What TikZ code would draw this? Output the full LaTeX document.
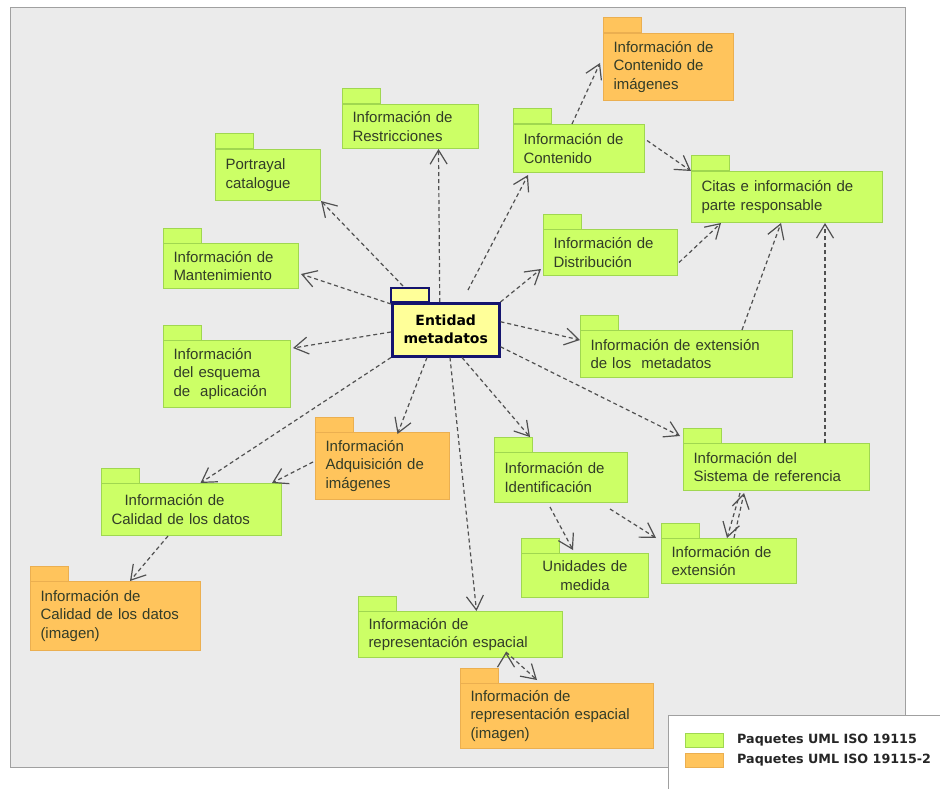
\documentclass[tikz,border=0pt]{standalone}
\usepackage{fontspec}
\setmainfont{Liberation Sans}
\newfontfamily\dejavu{DejaVu Sans}
\usetikzlibrary{arrows.meta}
\definecolor{fondo}{RGB}{235,235,235}
\definecolor{marco}{RGB}{160,160,160}
\definecolor{verde}{RGB}{204,255,102}
\definecolor{verdeborde}{RGB}{160,215,80}
\definecolor{naranja}{RGB}{255,196,92}
\definecolor{naranjaborde}{RGB}{235,175,80}
\definecolor{amarillo}{RGB}{255,255,153}
\definecolor{azul}{RGB}{20,20,110}
\definecolor{texto}{RGB}{50,60,40}
\definecolor{flecha}{RGB}{80,80,80}

\begin{document}
\begin{tikzpicture}[x=1pt,y=-1pt]
	\tikzset{pkg/.style 2 args = {draw=verdeborde, fill=verde, anchor=north west, text=texto, line width=1pt,
			font=\fontsize{15}{18.5}\selectfont, align=left, inner xsep=10pt, inner ysep=0pt,
			minimum height=#2pt, text width=#1pt-20pt}}
	\tikzset{img/.style = {fill=naranja, draw=naranjaborde}}
	\tikzset{raiz/.style = {draw=azul, line width=2.5pt, fill=amarillo, anchor=north west, align=center,
			font=\dejavu\bfseries\fontsize{14}{18}\selectfont, minimum width=107pt, minimum height=53pt, inner sep=0pt}}
	\tikzset{dep/.style = {draw=flecha, line width=1.2pt, dash pattern=on 4pt off 3pt,
			-{Straight Barb[length=14pt,width=17pt]}}}
	\useasboundingbox (0,0) rectangle (940,789);
	\fill[white] (0,0) rectangle (940,789);
	\draw[draw=marco, fill=fondo, line width=1pt] (10,8) rectangle (905,767);
	% paquetes
	\node[pkg={130}{67}, img] (imgcont) at (603,33) {Información de\\Contenido de\\imágenes};
	\node[pkg={136}{44}] (restric) at (342,104) {Información de\\Restricciones};
	\node[pkg={105}{51}] (portrayal) at (215,149) {Portrayal\\catalogue};
	\node[pkg={135}{45}] (manten) at (163,243) {Información de\\Mantenimiento};
	\node[pkg={127}{67}] (esquema) at (163,340) {Información\\del esquema\\de~ aplicación};
	\node[raiz] (entidad) at (391,302) {Entidad\\metadatos};
	\node[pkg={131}{48}] (contenido) at (513,124) {Información de\\Contenido};
	\node[pkg={191}{51}] (citas) at (691,171) {Citas e información de\\parte responsable};
	\node[pkg={134}{46}] (distrib) at (543,229) {Información de\\Distribución};
	\node[pkg={212}{47}] (extmeta) at (580,330) {Información de extensión\\de los~ metadatos};
	\node[pkg={134}{67}, img] (adquis) at (315,432) {Información\\Adquisición de\\imágenes};
	\node[pkg={180}{52}] (calidad) at (101,483) {\hspace*{13pt}Información de\\Calidad de los datos};
	\node[pkg={170}{69}, img] (calimg) at (30,581) {Información de\\Calidad de los datos\\(imagen)};
	\node[pkg={204}{46}] (repesp) at (358,611) {Información de\\representación espacial};
	\node[pkg={193}{65}, img] (repimg) at (460,683) {Información de\\representación espacial\\(imagen)};
	\node[pkg={133}{50}] (ident) at (494,452) {Información de\\Identificación};
	\node[pkg={186}{47}] (sisref) at (683,443) {Información del\\Sistema de referencia};
	\node[pkg={127}{44}, align=center] (unidades) at (521,553) {Unidades de\\medida};
	\node[pkg={135}{45}] (extension) at (661,538) {Información de\\extensión};
	% pestanas
	\foreach \n in {restric,portrayal,manten,esquema,contenido,citas,distrib,extmeta,calidad,repesp,ident,sisref,unidades,extension}
		\draw[draw=verdeborde, fill=verde, line width=1pt] (\n.north west) rectangle ++(38,-15);
	\foreach \n in {imgcont,adquis,calimg,repimg}
		\draw[draw=naranjaborde, fill=naranja, line width=1pt] (\n.north west) rectangle ++(38,-15);
	\draw[draw=azul, fill=amarillo, line width=2.5pt] (entidad.north west) rectangle ++(38,-14);
	% dependencias
	\path[dep]
		([shift={(-6,0)}]entidad.north) edge ([shift={(28,0)}]restric.south)
		([shift={(12,-16)}]entidad.north west) edge (portrayal.south east)
		([shift={(0,2)}]entidad.north west) edge ([shift={(2,8)}]manten.east)
		([shift={(0,30)}]entidad.north west) edge ([shift={(2,-26)}]esquema.east)
		(entidad.south west) edge ([shift={(9,0)}]calidad.north)
		([shift={(36,0)}]entidad.south west) edge ([shift={(15,2)}]adquis.north)
		([shift={(59,0)}]entidad.south west) edge ([shift={(16,0)}]repesp.north)
		([shift={(71,0)}]entidad.south west) edge ([shift={(36,-15)}]ident.north west)
		([shift={(0,17)}]entidad.east) edge ([shift={(-3,-7)}]sisref.north west)
		([shift={(0,-8)}]entidad.east) edge ([shift={(0,-14)}]extmeta.west)
		(entidad.north east) edge ([shift={(-2,-7)}]distrib.south west)
		([shift={(77,-12)}]entidad.north west) edge ([shift={(15,2)}]contenido.south west)
		([shift={(59,0)}]contenido.north west) edge ([shift={(-3,30)}]imgcont.north west)
		([shift={(2,-8)}]contenido.east) edge (citas.north west)
		([shift={(1,10)}]distrib.east) edge ([shift={(30,0)}]citas.south west)
		([shift={(162,0)}]extmeta.north west) edge ([shift={(90,0)}]citas.south west)
		([shift={(142,0)}]sisref.north west) edge ([shift={(134,0)}]citas.south west)
		([shift={(-2,-4)}]adquis.west) edge ([shift={(-10,0)}]calidad.north east)
		([shift={(67,0)}]calidad.south west) edge ([shift={(100,0)}]calimg.north west)
		([shift={(56,4)}]ident.south west) edge ([shift={(52,-3)}]unidades.north west)
		([shift={(116,6)}]ident.south west) edge ([shift={(-5,0)}]extension.north west)
		([shift={(73,0)}]extension.north west) edge ([shift={(61,2)}]sisref.south west)
		([shift={(57,2)}]sisref.south west) edge ([shift={(66,0)}]extension.north west)
		([shift={(148,-6)}]repesp.south west) edge ([shift={(77,-3)}]repimg.north west);
	% leyenda
	\draw[draw=marco, fill=white, line width=1pt] (668,715) rectangle (950,800);
	\node[draw=verdeborde, fill=verde, minimum width=38pt, minimum height=14pt, inner sep=0pt] (mverde) at (704,740) {};
	\node[draw=naranjaborde, fill=naranja, minimum width=38pt, minimum height=14pt, inner sep=0pt] (mnaranja) at (704,760) {};
	\node[anchor=west, inner sep=0pt, font=\dejavu\bfseries\fontsize{12.7}{15}\selectfont, text=black!85] (lverde) at (737,740) {Paquetes UML ISO 19115};
	\node[anchor=west, inner sep=0pt, font=\dejavu\bfseries\fontsize{12.7}{15}\selectfont, text=black!85] (lnaranja) at (737,760) {Paquetes UML ISO 19115-2};
\end{tikzpicture}
\end{document}
